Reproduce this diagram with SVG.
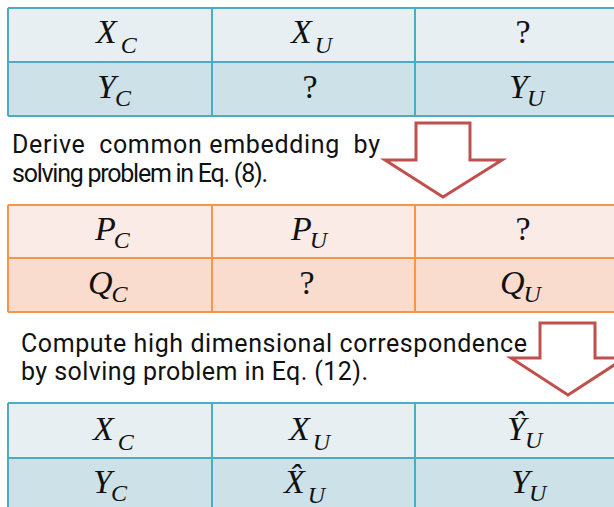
<svg xmlns="http://www.w3.org/2000/svg" width="614" height="507" viewBox="0 0 614 507">
<style>
.bl{stroke:#4bacc6;stroke-width:2;fill:none}
.or{stroke:#f79646;stroke-width:2;fill:none}
.m{font-family:"Liberation Serif",serif;font-style:italic;font-size:34px;fill:#111}
.s{font-size:24px}
.q{font-family:"Liberation Serif",serif;font-size:34px;fill:#111}
.t{font-family:Roboto,"Noto Sans",sans-serif;font-size:25px;fill:#111;white-space:pre}
.arr{fill:#fff;stroke:#c0504d;stroke-width:3;stroke-linejoin:miter}
</style>
<g id="table1">
<rect x="8" y="8" width="620" height="54" fill="#e7eff3"/>
<rect x="8" y="62" width="620" height="54" fill="#cde1e8"/>
<path class="bl" d="M8 8H620M8 62H620M8 116H620M8 8V116M212 8V116M415 8V116"/>
<text class="m" x="96" y="43">X<tspan class="s" dx="4" dy="10">C</tspan></text>
<text class="m" x="291" y="43">X<tspan class="s" dx="3" dy="10">U</tspan></text>
<text class="q" x="523" y="43" text-anchor="middle">?</text>
<text class="m" x="97" y="98">Y<tspan class="s" dx="-1" dy="8">C</tspan></text>
<text class="q" x="310" y="98" text-anchor="middle">?</text>
<text class="m" x="509" y="98">Y<tspan class="s" dx="-1" dy="8">U</tspan></text>
</g>
<g id="text1">
<text class="t" x="12" y="153" textLength="368" lengthAdjust="spacing">Derive  common embedding  by</text>
<text class="t" x="12" y="182" textLength="256" lengthAdjust="spacing">solving problem in Eq. (8).</text>
</g>
<g id="table2">
<rect x="8" y="205" width="620" height="53" fill="#fbebe7"/>
<rect x="8" y="258" width="620" height="54" fill="#f9dccd"/>
<path class="or" d="M8 205H620M8 258H620M8 312H620M8 205V312M212 205V312M415 205V312"/>
<text class="m" x="95" y="240">P<tspan class="s" dx="-2" dy="8">C</tspan></text>
<text class="m" x="291" y="240">P<tspan class="s" dx="-2" dy="8">U</tspan></text>
<text class="q" x="523" y="240" text-anchor="middle">?</text>
<text class="m" x="88" y="294">Q<tspan class="s" dx="-1" dy="8">C</tspan></text>
<text class="q" x="307" y="294" text-anchor="middle">?</text>
<text class="m" x="500" y="294">Q<tspan class="s" dx="-1" dy="8">U</tspan></text>
</g>
<g id="text2">
<text class="t" x="21" y="352" textLength="506" lengthAdjust="spacing">Compute high dimensional correspondence</text>
<text class="t" x="21" y="380" textLength="347" lengthAdjust="spacing">by solving problem in Eq. (12).</text>
</g>
<g id="table3">
<rect x="8" y="403" width="620" height="55" fill="#e7eff3"/>
<rect x="8" y="458" width="620" height="55" fill="#cde1e8"/>
<path class="bl" d="M8 403H620M8 458H620M8 513H620M8 403V513M212 403V513M415 403V513"/>
<text class="m" x="93" y="440">X<tspan class="s" dx="4" dy="10">C</tspan></text>
<text class="m" x="289" y="440">X<tspan class="s" dx="3" dy="10">U</tspan></text>
<text class="m" x="507" y="440">Y&#x302;<tspan class="s" dx="-1" dy="8">U</tspan></text>
<text class="m" x="93" y="493">Y<tspan class="s" dx="-1" dy="8">C</tspan></text>
<text class="m" x="284" y="493">X&#x302;<tspan class="s" dx="3" dy="10">U</tspan></text>
<text class="m" x="511" y="493">Y<tspan class="s" dx="-1" dy="8">U</tspan></text>
</g>
<g id="connectors">
<path class="arr" d="M416 123H470V160H502L443 197L385 160H416Z"/>
<path class="arr" d="M540 323H595V358H625L568 395L511 358H540Z"/>
</g>
</svg>
